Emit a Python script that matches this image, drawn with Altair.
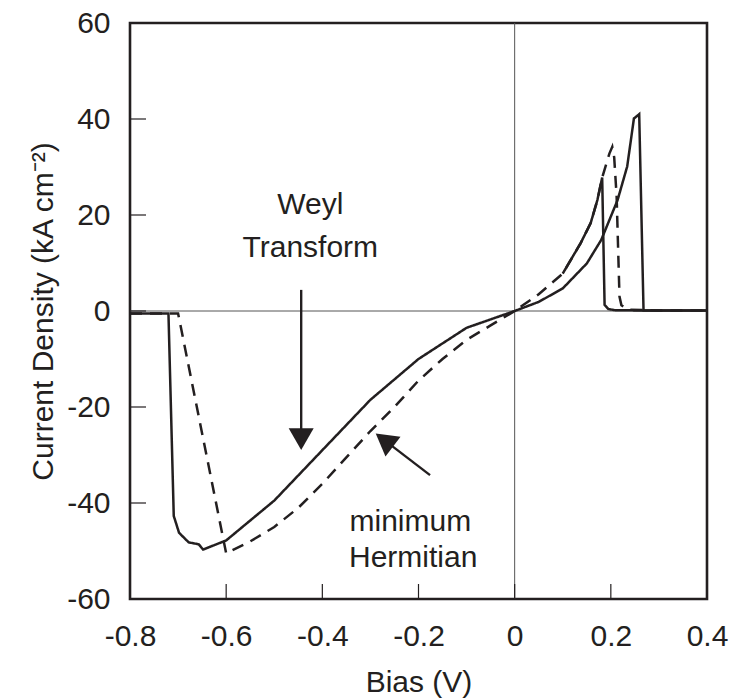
import altair as alt
import pandas as pd

# --- Weyl transform (solid) ---
weyl_x = [-0.80, -0.72, -0.709, -0.698, -0.678, -0.657, -0.648, -0.60, -0.50, -0.40, -0.30,
          -0.20, -0.10, 0.00, 0.05, 0.10, 0.15, 0.18, 0.214, 0.234, 0.248, 0.259, 0.268, 0.30, 0.40]
weyl_y = [-0.5, -0.5, -42.7, -46.2, -48.2, -48.6, -49.7, -47.8, -39.5, -29.0, -18.5,
          -10.0, -3.5, 0.0, 1.9, 4.7, 9.9, 14.8, 23.1, 30.1, 40.1, 41.0, 0.1, 0.1, 0.1]

# --- minimum Hermitian (dashed) ---
herm_x = [-0.80, -0.70, -0.60, -0.55, -0.50, -0.45, -0.40, -0.35, -0.30, -0.25, -0.20, -0.15,
          -0.10, -0.05, 0.00, 0.05, 0.10, 0.137, 0.158, 0.172, 0.182, 0.197, 0.203, 0.207, 0.212,
          0.218, 0.222, 0.235, 0.30, 0.40]
herm_y = [-0.5, -0.5, -50.5, -48.0, -45.0, -41.0, -36.0, -30.5, -25.0, -20.0, -14.5, -10.0,
          -6.0, -3.0, 0.0, 3.5, 7.8, 14.1, 18.3, 23.1, 27.8, 32.8, 34.2, 32.0, 24.0,
          3.0, 1.2, 0.3, 0.1, 0.1]

# --- third curve (solid, starting at 0.1 V) ---
third_x = [0.10, 0.137, 0.158, 0.172, 0.182, 0.187, 0.195, 0.21, 0.30, 0.40]
third_y = [7.8, 14.1, 18.3, 23.1, 27.8, 1.3, 0.4, 0.15, 0.1, 0.1]

x_ticks = [-0.8, -0.6, -0.4, -0.2, 0.0, 0.2, 0.4]
y_ticks = [-60, -40, -20, 0, 20, 40, 60]
x_inner_ticks = [-0.6, -0.4, -0.2, 0.0, 0.2]
y_inner_ticks = [-40, -20, 0, 20, 40]

# annotations
label_text = ["Weyl", "Transform", "minimum", "Hermitian"]
label_x = [-0.425, -0.425, -0.217, -0.211]
label_y = [22.1, 13.1, -44.0, -51.5]

arrow_x = [-0.444, -0.176]
arrow_y = [4.4, -34.2]
arrow_x2 = [-0.444, -0.271]
arrow_y2 = [-25.0, -26.9]
head_x = [-0.444, -0.271]
head_y = [-26.7, -26.9]
head_angle = [180, 307]

W, H = 577, 576
INK = "#231f20"
FONT = "Liberation Sans"

rows = []
for name, xs, ys in [("weyl", weyl_x, weyl_y), ("herm", herm_x, herm_y), ("third", third_x, third_y)]:
    for i, (a, b) in enumerate(zip(xs, ys)):
        rows.append({"series": name, "x": a, "y": b, "i": i})
df = pd.DataFrame(rows)

xscale = alt.Scale(domain=[-0.8, 0.4], nice=False, zero=False)
yscale = alt.Scale(domain=[-60, 60], nice=False, zero=False)

xaxis = alt.Axis(values=x_ticks, ticks=False, domain=False, grid=False, labelFlush=False,
                 labelOverlap=False, labelPadding=22, labelExpr="'' + round(datum.value*10)/10",
                 title="Bias (V)", titlePadding=16)
yaxis = alt.Axis(values=y_ticks, ticks=False, domain=False, grid=False, labelFlush=False,
                 labelOverlap=False, labelPadding=20, labelExpr="'' + round(datum.value)",
                 title="Current Density (kA cm⁻²)", titlePadding=8)

base = alt.Chart(df)

lines = base.mark_line(color=INK, strokeWidth=2.5, strokeJoin="miter", clip=True).encode(
    x=alt.X("x:Q", scale=xscale, axis=xaxis),
    y=alt.Y("y:Q", scale=yscale, axis=yaxis),
    detail="series:N",
    order="i:Q",
    strokeDash=alt.StrokeDash("series:N",
                              scale=alt.Scale(domain=["weyl", "herm", "third"],
                                              range=[[1, 0], [12, 8], [1, 0]]),
                              legend=None),
)

zx = alt.Chart(pd.DataFrame({"v": [0.0]})).mark_rule(color="#555", strokeWidth=1).encode(
    x=alt.X("v:Q", scale=xscale), y=alt.value(0), y2=alt.value(H))
zy = alt.Chart(pd.DataFrame({"v": [0.0]})).mark_rule(color="#555", strokeWidth=1).encode(
    y=alt.Y("v:Q", scale=yscale), x=alt.value(0), x2=alt.value(W))

xt = alt.Chart(pd.DataFrame({"v": x_inner_ticks})).mark_rule(color=INK, strokeWidth=1.2).encode(
    x=alt.X("v:Q", scale=xscale), y=alt.value(H), y2=alt.value(H - 15))
yt = alt.Chart(pd.DataFrame({"v": y_inner_ticks})).mark_rule(color=INK, strokeWidth=1.2).encode(
    y=alt.Y("v:Q", scale=yscale), x=alt.value(0), x2=alt.value(16))

ann = pd.DataFrame({"t": label_text, "x": label_x, "y": label_y})
texts = alt.Chart(ann).mark_text(font=FONT, fontSize=30, color=INK, baseline="middle",
                                 align="center").encode(
    x=alt.X("x:Q", scale=xscale), y=alt.Y("y:Q", scale=yscale), text="t:N")

arr = pd.DataFrame({"x": arrow_x, "y": arrow_y, "x2": arrow_x2, "y2": arrow_y2})
shafts = alt.Chart(arr).mark_rule(color=INK, strokeWidth=2.4).encode(
    x=alt.X("x:Q", scale=xscale), y=alt.Y("y:Q", scale=yscale), x2="x2:Q", y2="y2:Q")

hd = pd.DataFrame({"x": head_x, "y": head_y, "a": head_angle})
heads = alt.Chart(hd).mark_point(shape="triangle-up", filled=True, size=625, color=INK,
                                 opacity=1).encode(
    x=alt.X("x:Q", scale=xscale), y=alt.Y("y:Q", scale=yscale),
    angle=alt.Angle("a:Q", scale=None))

chart = alt.layer(zx, zy, xt, yt, lines, shafts, heads, texts).properties(
    width=W, height=H,
    autosize=alt.AutoSizeParams(type="none"),
    padding={"left": 130, "top": 23, "right": 27, "bottom": 101},
    background="white",
).configure_view(stroke=INK, strokeWidth=2.6).configure_axis(
    labelFont=FONT, labelFontSize=30, labelColor=INK,
    titleFont=FONT, titleFontSize=30, titleFontWeight="normal", titleColor=INK,
)

chart.save("out.html", embed_options={"renderer": "svg", "actions": False})
